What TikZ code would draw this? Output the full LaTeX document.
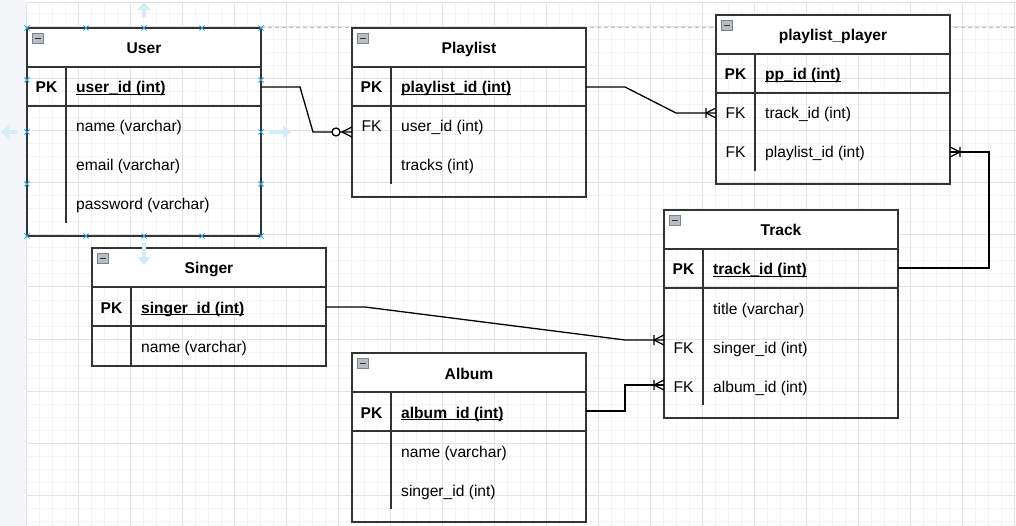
\documentclass[tikz,border=0pt]{standalone}
\usepackage{fontspec}
\setmainfont{Liberation Sans}
\usetikzlibrary{calc,arrows.meta}
\definecolor{tblc}{HTML}{333333}
\definecolor{gridminor}{HTML}{F4F4F4}
\definecolor{gridmajor}{HTML}{E2E2E2}
\definecolor{panel}{HTML}{F3F5F8}
\definecolor{selblue}{HTML}{29A3E0}
\definecolor{hintblue}{HTML}{D3ECF8}
\definecolor{iconfill}{HTML}{B9BDC5}
\definecolor{iconline}{HTML}{7D828B}
\definecolor{pageline}{HTML}{BDBDBD}

\newcommand\ulfield[1]{\setbox0\hbox{#1}\rlap{\rule[-2.4pt]{\wd0}{1.2pt}}\box0}

% table frame: #1 name, #2 x0, #3 y0, #4 width, #5 height, #6 title, #7 divider end y
\newcommand\ertable[7]{%
  \fill[white] (#2,#3) rectangle ++(#4,39);
  \node[tblbox, minimum width=#4pt, minimum height=#5pt] (#1) at (#2,#3) {};
  \draw[rowline] (#2,#3+39) -- ++(#4,0);
  \draw[rowline] (#2,#3+78) -- ++(#4,0);
  \draw[rowline] (#2+39,#3+39) -- (#2+39,#7);
  \node[iconbox] (#1-icon) at (#2+11,#3+10.5) {};
  \draw[tblc, line width=1.8pt] (#2+8,#3+10.5) -- (#2+14,#3+10.5);
  \node[ttl] (#1-title) at (#2+#4/2,#3+26) {#6};
}
\newcommand\onemany[2]{%
  \begin{scope}[shift={(#1)}, xscale=#2]
    \draw[conn] (-10,0) -- (0,-5) (-10,0) -- (0,5) (-10,-5) -- (-10,5);
  \end{scope}}
\newcommand\zeromany[1]{%
  \begin{scope}[shift={(#1)}]
    \draw[conn] (-10,0) -- (0,-5) (-10,0) -- (0,5);
    \draw[conn, fill=white] (-16,0) circle[radius=4];
  \end{scope}}

\begin{document}
\begin{tikzpicture}[x=1pt, y=-1pt,
  font=\fontsize{15.6}{18}\selectfont,
  tblbox/.style={draw=tblc, line width=2pt, inner sep=0pt, outer sep=0pt, anchor=north west},
  rowline/.style={draw=tblc, line width=2pt},
  iconbox/.style={draw=iconline, fill=iconfill, line width=0.8pt, minimum size=10.5pt, inner sep=0pt},
  ttl/.style={anchor=base, inner sep=0pt, font=\fontsize{15.6}{18}\selectfont\bfseries},
  fld/.style={anchor=base west, inner sep=0pt},
  pkfld/.style={anchor=base west, inner sep=0pt, font=\fontsize{15.6}{18}\selectfont\bfseries},
  keyl/.style={anchor=base, inner sep=0pt, font=\fontsize{15.6}{18}\selectfont\bfseries},
  fkl/.style={anchor=base, inner sep=0pt},
  conn/.style={draw=black, line width=1.3pt, line join=miter},
  selx/.style={draw=selblue, line width=0.9pt},
  hintarrow/.style={draw=hintblue, line width=4pt, -{Triangle[width=13pt,length=8pt]}},
]
\useasboundingbox (0,0) rectangle (1016,526);
\fill[white] (0,0) rectangle (1016,526);
% grid
\foreach \gx in {26,39,...,1016} \draw[gridminor, line width=1pt] (\gx,3) -- (\gx,526);
\foreach \gy in {14,27,...,526} \draw[gridminor, line width=1pt] (26,\gy) -- (1016,\gy);
\foreach \gx in {26,78,...,1016} \draw[gridmajor, line width=1pt] (\gx,3) -- (\gx,526);
\foreach \gy in {27,79,...,526} \draw[gridmajor, line width=1pt] (26,\gy) -- (1016,\gy);
\draw[gridmajor, line width=1pt] (26,3) -- (1016,3);
\fill[panel] (0,0) rectangle (25.5,526);
\draw[pageline, line width=1pt, dash pattern=on 4pt off 3pt] (261,28) -- (1016,28);

% tables
\ertable{user}{27}{28}{234}{208}{User}{223}
\ertable{playlist}{352}{28}{234}{169}{Playlist}{184}
\ertable{pp}{716}{15}{234}{169}{playlist\_player}{171}
\ertable{track}{664}{210}{234}{208}{Track}{405}
\ertable{singer}{92}{248}{234}{118}{Singer}{366}
\ertable{album}{352}{353}{234}{169}{Album}{509}

% User fields
\node[keyl] (user-pk) at (46.5,93) {PK};
\node[pkfld] (user-id) at (76,93) {\ulfield{user\_id (int)}};
\node[fld] (user-name) at (76,132) {name (varchar)};
\node[fld] (user-email) at (76,171) {email (varchar)};
\node[fld] (user-pass) at (76,210) {password (varchar)};
% Playlist fields
\node[keyl] (playlist-pk) at (371.5,93) {PK};
\node[pkfld] (playlist-id) at (401,93) {\ulfield{playlist\_id (int)}};
\node[fkl] (playlist-fk) at (371.5,132) {FK};
\node[fld] (playlist-user) at (401,132) {user\_id (int)};
\node[fld] (playlist-tracks) at (401,171) {tracks (int)};
% playlist_player fields
\node[keyl] (pp-pk) at (735.5,80) {PK};
\node[pkfld] (pp-id) at (765,80) {\ulfield{pp\_id (int)}};
\node[fkl] (pp-fk1) at (735.5,119) {FK};
\node[fld] (pp-track) at (765,119) {track\_id (int)};
\node[fkl] (pp-fk2) at (735.5,158) {FK};
\node[fld] (pp-playlist) at (765,158) {playlist\_id (int)};
% Track fields
\node[keyl] (track-pk) at (683.5,275) {PK};
\node[pkfld] (track-id) at (713,275) {\ulfield{track\_id (int)}};
\node[fld] (track-title) at (713,314) {title (varchar)};
\node[fkl] (track-fk1) at (683.5,353) {FK};
\node[fld] (track-singer) at (713,353) {singer\_id (int)};
\node[fkl] (track-fk2) at (683.5,392) {FK};
\node[fld] (track-album) at (713,392) {album\_id (int)};
% Singer fields
\node[keyl] (singer-pk) at (111.5,313) {PK};
\node[pkfld] (singer-id) at (141,313) {\ulfield{singer\_id (int)}};
\node[fld] (singer-name) at (141,352) {name (varchar)};
% Album fields
\node[keyl] (album-pk) at (371.5,418) {PK};
\node[pkfld] (album-id) at (401,418) {\ulfield{album\_id (int)}};
\node[fld] (album-name) at (401,457) {name (varchar)};
\node[fld] (album-singer) at (401,496) {singer\_id (int)};

% connector ends
\coordinate (user-id-e) at (261,87);
\coordinate (playlist-fk-w) at (352,132);
\coordinate (playlist-id-e) at (586,87);
\coordinate (pp-track-w) at (716,113);
\coordinate (track-id-e) at (898,268);
\coordinate (pp-pl-e) at (950,152);
\coordinate (singer-id-e) at (326,307);
\coordinate (track-singer-w) at (664,340);
\coordinate (album-id-e) at (586,411);
\coordinate (track-album-w) at (664,385);

\draw[conn] (user-id-e) -- ++(39,0) -- ($(playlist-fk-w)+(-39,0)$) -- (playlist-fk-w);
\zeromany{playlist-fk-w}
\draw[conn] (playlist-id-e) -- ++(39,0) -- ($(pp-track-w)+(-40,0)$) -- (pp-track-w);
\onemany{pp-track-w}{1}
\draw[conn] (track-id-e) -| ($(pp-pl-e)+(39,0)$) -- (pp-pl-e);
\onemany{pp-pl-e}{-1}
\draw[conn] (singer-id-e) -- ++(39,0) -- ($(track-singer-w)+(-39,0)$) -- (track-singer-w);
\onemany{track-singer-w}{1}
\draw[conn] (album-id-e) -- ++(39,0) |- (track-album-w);
\onemany{track-album-w}{1}

% selection handles on User
\foreach \hx in {27,86,144,202,261} {
  \foreach \hy in {28,236} {
    \draw[selx] (\hx-2.5,\hy-2.5) -- (\hx+2.5,\hy+2.5) (\hx-2.5,\hy+2.5) -- (\hx+2.5,\hy-2.5);
  }
}
\foreach \hx in {27,261} {
  \foreach \hy in {80,132,184} {
    \draw[selx] (\hx-2.5,\hy-2.5) -- (\hx+2.5,\hy+2.5) (\hx-2.5,\hy+2.5) -- (\hx+2.5,\hy-2.5);
  }
}
\coordinate (hint-up) at (144,17);
\coordinate (hint-left) at (17,132);
\coordinate (hint-right) at (269,132);
\coordinate (hint-down) at (144,243);
\draw[hintarrow] (hint-up) -- ++(0,-15);
\draw[hintarrow] (hint-left) -- ++(-16,0);
\draw[hintarrow] (hint-right) -- ++(22,0);
\draw[hintarrow] (hint-down) -- ++(0,22);
\end{tikzpicture}
\end{document}
